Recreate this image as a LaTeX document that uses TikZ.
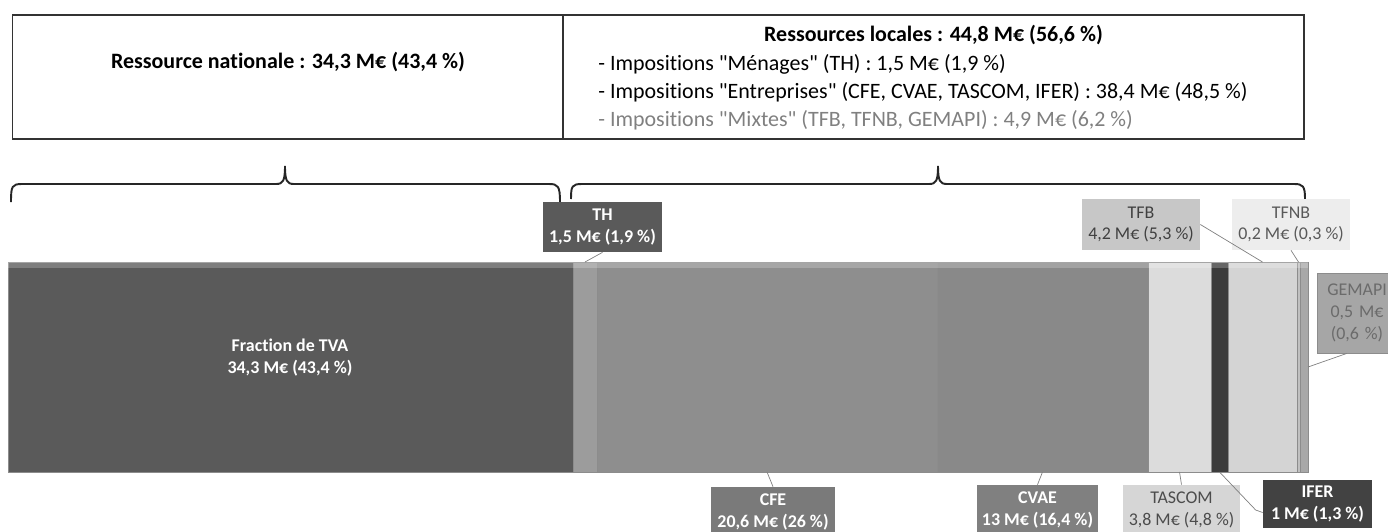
\documentclass[tikz,border=0pt]{standalone}
\usepackage{fontspec}
\setmainfont{Carlito}[Ligatures={TeXOff,NoCommon}]
\usetikzlibrary{calc}
\definecolor{tvagray}{HTML}{5A5A5A}
\definecolor{thgray}{HTML}{9C9C9C}
\definecolor{cfegray}{HTML}{8E8E8E}
\definecolor{cvaegray}{HTML}{898989}
\definecolor{tascomgray}{HTML}{DCDCDC}
\definecolor{ifergray}{HTML}{3C3C3C}
\definecolor{tfbgray}{HTML}{D4D4D4}
\definecolor{tfnbgray}{HTML}{C0C0C0}
\definecolor{gemapigray}{HTML}{A8A8A8}
\begin{document}
\begin{tikzpicture}[x=0.02cm, y=-0.02cm]
	\tikzstyle{seg} = [rectangle, draw=black!45, line width=0.4pt, minimum height=4.2cm, inner sep=0pt, outer sep=0pt]
	\tikzstyle{lbl} = [rectangle, inner sep=0pt, minimum height=1cm, align=center, font=\fontsize{10.2}{12.5}\selectfont]
	\tikzstyle{dark} = [lbl, text=white, font=\fontsize{10.2}{12.5}\selectfont\bfseries]
	\tikzstyle{leader} = [draw=black!50, line width=0.4pt]
	\tikzstyle{brace} = [draw=black!85, line width=1.1pt]
	\tikzstyle{topbox} = [rectangle, draw=black!80, line width=0.8pt, minimum height=2.48cm, inner sep=0pt]
	\tikzstyle{toptext} = [inner sep=0pt, font=\fontsize{12.5}{14}\selectfont]
	\useasboundingbox (0,0) rectangle (1388,531);
	\clip (0,0) rectangle (1388,531);
	% top boxes
	\node[topbox, minimum width=11.01cm](natbox)at (287.75,77){};
	\node[topbox, minimum width=14.82cm](locbox)at (933.5,77){};
	\node[toptext, font=\fontsize{12.5}{14}\selectfont\bfseries](nattext)at (288,62){Ressource nationale : 34,3 M€ (43,4 \%)};
	\node[toptext, font=\fontsize{12.5}{14}\selectfont\bfseries](loctitle)at (933.5,35){Ressources locales : 44,8 M€ (56,6 \%)};
	\node[toptext, anchor=west](menages)at (598,64){- Impositions "Ménages" (TH) : 1,5 M€ (1,9 \%)};
	\node[toptext, anchor=west](entreprises)at (598,92){- Impositions "Entreprises" (CFE, CVAE, TASCOM, IFER) : 38,4 M€ (48,5 \%)};
	\node[toptext, anchor=west, text=black!50](mixtes)at (598,120){- Impositions "Mixtes" (TFB, TFNB, GEMAPI) : 4,9 M€ (6,2 \%)};
	% braces
	\coordinate (natl) at (11,202);
	\coordinate (nattip) at (285,166);
	\coordinate (natr) at (560,202);
	\coordinate (locl) at (571,199);
	\coordinate (loctip) at (938,166);
	\coordinate (locr) at (1305,199);
	\draw[brace] (natl) .. controls (11,186) and (12,184) .. (22,184) -- (276,184)
		.. controls (283,184) and (285,181) .. (nattip) .. controls (285,181) and (287,184) .. (294,184)
		-- (549,184) .. controls (558,184) and (560,186) .. (natr);
	\draw[brace] (locl) .. controls (571,186) and (572,184) .. (582,184) -- (929,184)
		.. controls (936,184) and (938,181) .. (loctip) .. controls (938,181) and (940,184) .. (947,184)
		-- (1294,184) .. controls (1303,184) and (1305,186) .. (locr);
	% bar
	\node[seg,fill=tvagray,minimum width=11.3cm](tva)at (290.5,367){};
	\node[seg,fill=thgray,minimum width=0.48cm](th)at (585,367){};
	\node[seg,fill=cfegray,minimum width=6.8cm](cfe)at (767,367){};
	\node[seg,fill=cvaegray,minimum width=4.22cm](cvae)at (1042.5,367){};
	\node[seg,fill=tascomgray,minimum width=1.26cm](tascom)at (1179.5,367){};
	\node[seg,fill=ifergray,minimum width=0.34cm](ifer)at (1219.5,367){};
	\node[seg,fill=tfbgray,minimum width=1.38cm](tfb)at (1262.5,367){};
	\node[seg,fill=tfnbgray,minimum width=0.06cm](tfnb)at (1298.5,367){};
	\node[seg,fill=gemapigray,minimum width=0.16cm](gemapi)at (1304,367){};
	\fill[white, opacity=0.22] (tva.north west) rectangle ([yshift=-0.12cm]gemapi.north east);
	\node[dark, minimum height=0pt](tvatext)at (290,358){Fraction de TVA\\34,3 M€ (43,4 \%)};
	% labels
	\node[dark,fill=tvagray,minimum width=2.38cm](thl)at (602.5,227){TH\\1,5 M€ (1,9 \%)};
	\node[dark,fill=black!52,minimum width=2.48cm](cfel)at (773,512){CFE\\20,6 M€ (26 \%)};
	\node[dark,fill=black!50,minimum width=2.42cm](cvael)at (1037.5,510){CVAE\\13 M€ (16,4 \%)};
	\node[lbl,fill=black!16,text=black!70,minimum width=2.34cm](tascoml)at (1181.5,510){TASCOM\\3,8 M€ (4,8 \%)};
	\node[dark,fill=black!74,minimum width=2.18cm,minimum height=0.96cm](iferl)at (1317.5,504){IFER\\1 M€ (1,3 \%)};
	\node[lbl,fill=black!22,text=black!75,minimum width=2.36cm,minimum height=1.02cm](tfbl)at (1141,224.5){TFB\\4,2 M€ (5,3 \%)};
	\node[lbl,fill=black!7,text=black!65,minimum width=2.36cm,minimum height=1.02cm](tfnbl)at (1291,224.5){TFNB\\0,2 M€ (0,3 \%)};
	\node[lbl,draw=black!45,fill=black!35,text=black!58,minimum width=1.6cm,minimum height=1.6cm,text width=1.2cm](gemapil)at (1357,313){GEMAPI\\0,5 M€\\(0,6 \%)};
	% leader lines
	\path[leader] (thl.south) edge (th.north)
	(cfe.south) edge (cfel.north)
	(cvae.south) edge (cvael.north)
	(tascom.south) edge (tascoml.north)
	(tfbl.east) edge (tfb.north)
	(tfnbl.south) edge (tfnb.north)
	(gemapi.east) edge ($(gemapil.south)+(-10,0)$);
	\draw[leader] (ifer.south) -- ($(iferl.west)+(-7,6)$) -- ([yshift=-0.17cm]iferl.west);
\end{tikzpicture}
\end{document}
